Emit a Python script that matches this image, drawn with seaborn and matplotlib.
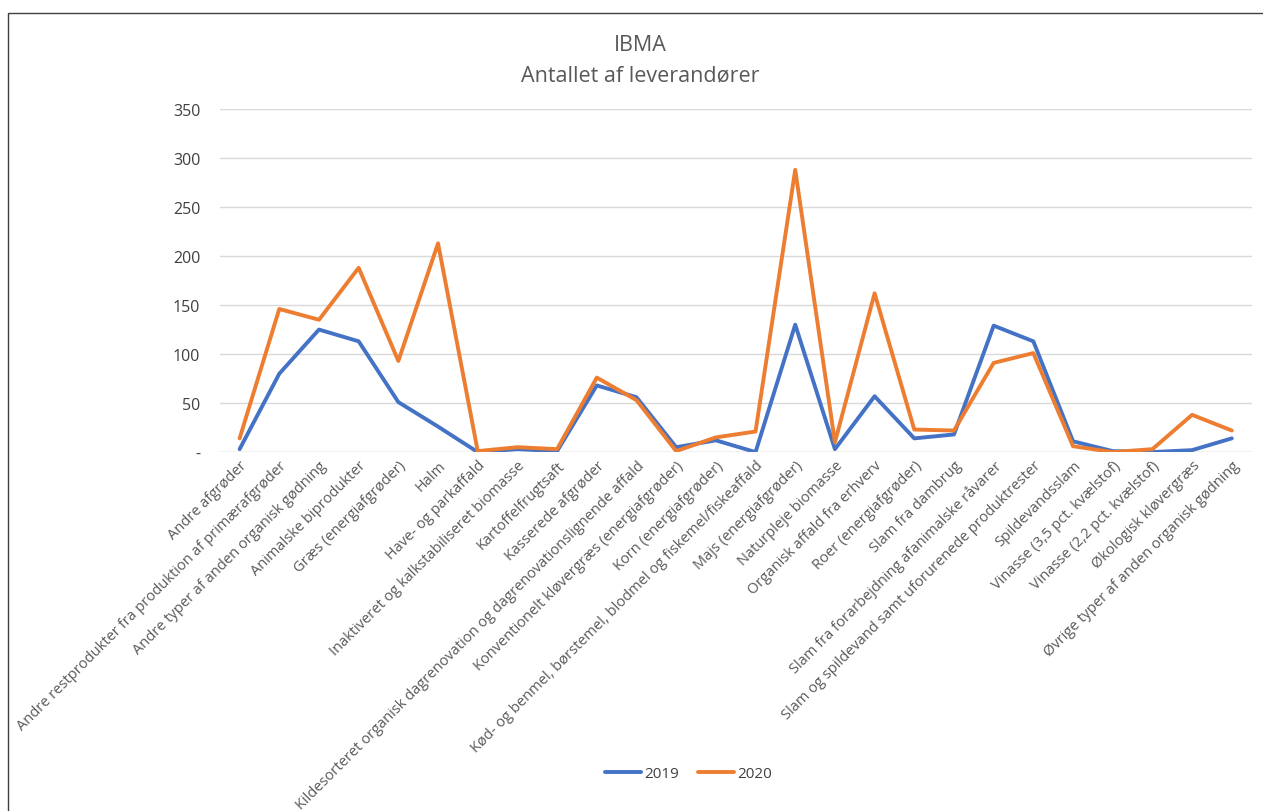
import matplotlib.pyplot as plt
import matplotlib.patches as mpatches
import seaborn as sns
import pandas as pd
import numpy as np

categories = [
    "Andre afgrøder",
    "Andre restprodukter fra produktion af primærafgrøder",
    "Andre typer af anden organisk gødning",
    "Animalske biprodukter",
    "Græs (energiafgrøder)",
    "Halm",
    "Have- og parkaffald",
    "Inaktiveret og kalkstabiliseret biomasse",
    "Kartoffelfrugtsaft",
    "Kasserede afgrøder",
    "Kildesorteret organisk dagrenovation og dagrenovationslignende affald",
    "Konventionelt kløvergræs (energiafgrøder)",
    "Korn (energiafgrøder)",
    "Kød- og benmel, børstemel, blodmel og fiskemel/fiskeaffald",
    "Majs (energiafgrøder)",
    "Naturpleje biomasse",
    "Organisk affald fra erhverv",
    "Roer (energiafgrøder)",
    "Slam fra dambrug",
    "Slam fra forarbejdning afanimalske råvarer",
    "Slam og spildevand samt uforurenede produktrester",
    "Spildevandsslam",
    "Vinasse (3,5 pct. kvælstof)",
    "Vinasse (2,2 pct. kvælstof)",
    "Økologisk kløvergræs",
    "Øvrige typer af anden organisk gødning",
]
values_2019 = [3, 80, 125, 113, 51, 26, 0, 3, 1, 68, 56, 5, 12, 0, 130, 3, 57, 14, 18, 129, 113, 11, 1, 0, 2, 14]
values_2020 = [14, 146, 135, 188, 93, 213, 1, 5, 3, 76, 53, 1, 15, 21, 288, 10, 162, 23, 22, 91, 101, 6, 0, 3, 38, 22]
years = ["2019", "2020"]
y_ticks = [0, 50, 100, 150, 200, 250, 300, 350]
y_tick_labels = ["-", "50", "100", "150", "200", "250", "300", "350"]

sns.set_theme(style="white")
plt.rcParams["font.family"] = ["Open Sans", "DejaVu Sans"]

n = len(categories)
df = pd.DataFrame({
    "pos": list(range(n)) * 2,
    "value": values_2019 + values_2020,
    "year": [years[0]] * n + [years[1]] * n,
})

grey = "#595959"
fig = plt.figure(figsize=(12.63, 8.12), dpi=100)
ax = fig.add_axes([0.174, 0.442, 0.817, 0.4225])

sns.lineplot(data=df, x="pos", y="value", hue="year",
             palette={"2019": "#4472C4", "2020": "#ED7D31"},
             linewidth=2.8, ax=ax, legend=False)

ax.set_xlim(-0.5, n - 0.5)
ax.set_ylim(0, 350)
ax.set_yticks(y_ticks)
ax.set_yticklabels(y_tick_labels, fontsize=11.5, color="#404040")
ax.set_xticks(range(n))
ax.set_xticklabels(categories, rotation=45, ha="right", va="top",
                   rotation_mode="anchor", fontsize=10.5, color=grey)
ax.tick_params(axis="y", length=0, pad=14)
ax.tick_params(axis="x", length=0, pad=4)
ax.set_xlabel("")
ax.set_ylabel("")
ax.grid(axis="y", color="#D9D9D9", linewidth=1)
ax.set_axisbelow(True)
for s in ax.spines.values():
    s.set_visible(False)
ax.axhline(0, color="#D9D9D9", linewidth=1, zorder=0)

fig.text(0.507, 0.944, "IBMA", ha="center", va="center", fontsize=15.5, color=grey)
fig.text(0.507, 0.907, "Antallet af leverandører", ha="center", va="center",
         fontsize=15.5, color=grey)

handles = [plt.Line2D([], [], color="#4472C4", lw=2.8),
           plt.Line2D([], [], color="#ED7D31", lw=2.8)]
fig.legend(handles, years, loc="center", bbox_to_anchor=(0.545, 0.046),
           ncol=2, frameon=False, fontsize=11, handlelength=2.4,
           columnspacing=1.2, handletextpad=0.2, labelcolor="#404040")

fig.patches.append(mpatches.Rectangle((0.0065, -0.01), 1.0, 0.993, transform=fig.transFigure,
                                      fill=False, edgecolor="#404040", linewidth=1))

fig.savefig("out.png", dpi=100)
